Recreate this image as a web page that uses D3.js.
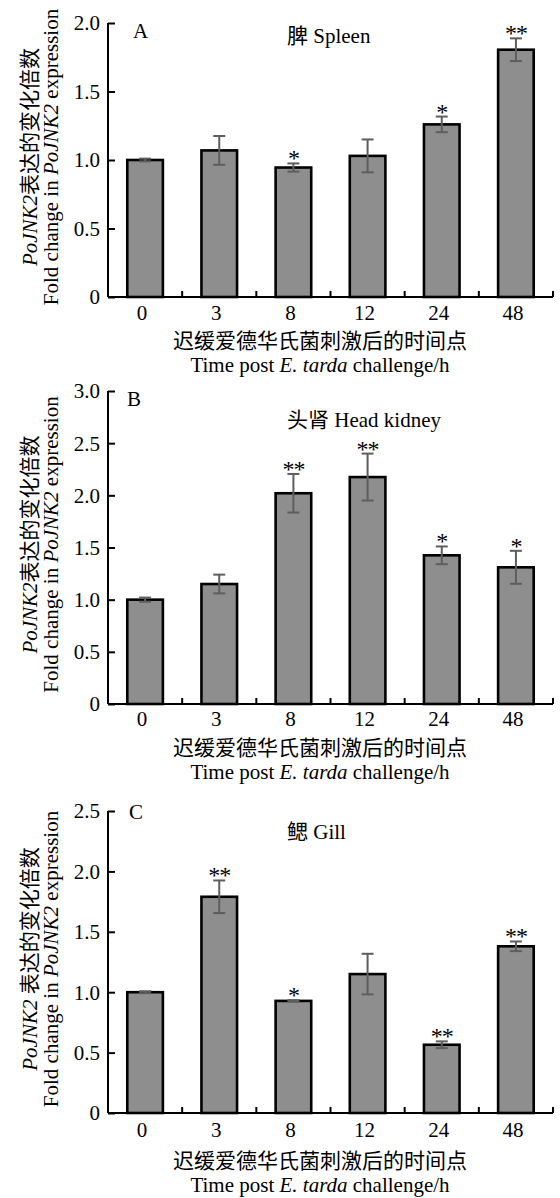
<!DOCTYPE html>
<html><head><meta charset="utf-8">
<script src="https://cdn.jsdelivr.net/npm/d3@7/dist/d3.min.js"></script>
<style>
html,body{margin:0;padding:0;background:#fff;}
svg text{font-family:"Liberation Serif","Times New Roman","Noto Sans CJK SC",serif;fill:#000;}
</style></head>
<body>
<svg id="chart" width="560" height="1198"></svg>
<script>
// ---------- data ----------
const categories = ["0", "3", "8", "12", "24", "48"];

const spleenMean = [1.00, 1.07, 0.945, 1.03, 1.26, 1.805];
const spleenErr  = [0.01, 0.105, 0.03, 0.12, 0.057, 0.083];
const spleenSig  = ["", "", "*", "", "*", "**"];

const kidneyMean = [1.00, 1.15, 2.02, 2.175, 1.425, 1.31];
const kidneyErr  = [0.02, 0.09, 0.185, 0.225, 0.085, 0.158];
const kidneySig  = ["", "", "**", "**", "*", "*"];

const gillMean = [1.00, 1.79, 0.928, 1.15, 0.565, 1.38];
const gillErr  = [0.008, 0.135, 0.006, 0.168, 0.028, 0.04];
const gillSig  = ["", "**", "*", "", "**", "**"];

const ticksA = [0, 0.5, 1.0, 1.5, 2.0];
const ticksB = [0, 0.5, 1.0, 1.5, 2.0, 2.5, 3.0];
const ticksC = [0, 0.5, 1.0, 1.5, 2.0, 2.5];

const panelLetters = ["A", "B", "C"];
const panelTitles = ["脾 Spleen", "头肾 Head kidney", "鳃 Gill"];
const yLabelCN = ["表达的变化倍数", "表达的变化倍数", " 表达的变化倍数"];
const xLabelCN = "迟缓爱德华氏菌刺激后的时间点";

// ---------- layout ----------
const panels = [
  {mean: spleenMean, err: spleenErr, sig: spleenSig, ticks: ticksA, yTop: 23, yBot: 297,
   letterY: 38, titleY: 43, tickLblDy: 23, cnDy: 51, enDy: 75},
  {mean: kidneyMean, err: kidneyErr, sig: kidneySig, ticks: ticksB, yTop: 391, yBot: 704,
   letterY: 406, titleY: 427, tickLblDy: 22, cnDy: 51, enDy: 75},
  {mean: gillMean, err: gillErr, sig: gillSig, ticks: ticksC, yTop: 811, yBot: 1113,
   letterY: 819, titleY: 839, tickLblDy: 24, cnDy: 55, enDy: 79}
];
const letterX = [133, 127, 129];
const xLeft = 108, xRight = 553;
const FS = 21;

const svg = d3.select("#chart");

panels.forEach((p, pi) => {
  const g = svg.append("g");
  const x = d3.scaleBand().domain(categories).range([xLeft, xRight])
    .paddingInner(0.52).paddingOuter(0.26);
  const yMax = p.ticks[p.ticks.length - 1];
  const y = d3.scaleLinear().domain([0, yMax]).range([p.yBot, p.yTop]);

  // bars
  g.selectAll("rect.bar").data(categories).join("rect")
    .attr("class", "bar")
    .attr("x", d => x(d))
    .attr("width", x.bandwidth())
    .attr("y", (d, i) => y(p.mean[i]))
    .attr("height", (d, i) => y(0) - y(p.mean[i]))
    .attr("fill", "#8e8e8e")
    .attr("stroke", "#000")
    .attr("stroke-width", 2.6);

  // error bars
  const capW = 6;
  categories.forEach((c, i) => {
    const cx = x(c) + x.bandwidth() / 2;
    const hi = y(p.mean[i] + p.err[i]), lo = y(p.mean[i] - p.err[i]);
    const eg = g.append("g").attr("stroke", "#5e5e5e").attr("stroke-width", 2);
    eg.append("line").attr("x1", cx).attr("x2", cx).attr("y1", hi).attr("y2", lo);
    eg.append("line").attr("x1", cx - capW).attr("x2", cx + capW).attr("y1", hi).attr("y2", hi);
    eg.append("line").attr("x1", cx - capW).attr("x2", cx + capW).attr("y1", lo).attr("y2", lo);
    if (p.sig[i]) {
      g.append("text").attr("x", cx).attr("y", hi + 3)
        .attr("text-anchor", "middle").attr("font-size", 24)
        .attr("letter-spacing", -1)
        .text(p.sig[i]);
    }
  });

  // y axis
  const yAxis = d3.axisRight(y).tickValues(p.ticks).tickSize(7).tickSizeOuter(0)
    .tickFormat(d => d === 0 ? "0" : d3.format(".1f")(d));
  const ya = g.append("g").attr("transform", `translate(${xLeft},0)`).call(yAxis);
  ya.select(".domain").attr("stroke", "#000").attr("stroke-width", 2)
    .attr("d", `M0,${p.yTop}V${p.yBot}`);
  ya.selectAll(".tick line").attr("stroke", "#000").attr("stroke-width", 2);
  ya.selectAll(".tick text").attr("x", -8).attr("text-anchor", "end")
    .attr("font-size", FS).attr("font-family", "Liberation Serif")
    .attr("dy", "0.33em").attr("fill", "#000");

  // x axis (ticks pointing up at band boundaries)
  g.append("line").attr("x1", xLeft).attr("x2", xRight).attr("y1", p.yBot).attr("y2", p.yBot)
    .attr("stroke", "#000").attr("stroke-width", 2);
  const bounds = categories.map(c => x(c) + x.bandwidth() / 2 + x.step() / 2);
  g.selectAll("line.xt").data(bounds).join("line").attr("class", "xt")
    .attr("x1", d => d).attr("x2", d => d).attr("y1", p.yBot).attr("y2", p.yBot - 6)
    .attr("stroke", "#000").attr("stroke-width", 2);
  g.selectAll("text.xl").data(categories).join("text").attr("class", "xl")
    .attr("x", d => x(d) + x.bandwidth() / 2 - 3)
    .attr("y", p.yBot + p.tickLblDy)
    .attr("text-anchor", "middle").attr("font-size", FS).text(d => d);

  // panel letter & title
  g.append("text").attr("x", letterX[pi]).attr("y", p.letterY).attr("font-size", FS).text(panelLetters[pi]);
  g.append("text").attr("x", 287).attr("y", p.titleY).attr("font-size", FS).text(panelTitles[pi]);

  // x axis labels
  g.append("text").attr("x", 320).attr("y", p.yBot + p.cnDy).attr("text-anchor", "middle")
    .attr("font-size", FS).text(xLabelCN);
  const en = g.append("text").attr("x", 320).attr("y", p.yBot + p.enDy).attr("text-anchor", "middle")
    .attr("font-size", FS);
  en.append("tspan").text("Time post ");
  en.append("tspan").attr("font-style", "italic").text("E. tarda");
  en.append("tspan").text(" challenge/h");

  // y axis labels (rotated)
  const cy = (p.yTop + p.yBot) / 2 - 3;
  const l1 = g.append("text").attr("transform", `translate(37,${cy}) rotate(-90)`)
    .attr("text-anchor", "middle").attr("font-size", FS);
  l1.append("tspan").attr("font-style", "italic").text("PoJNK2");
  l1.append("tspan").text(yLabelCN[pi]);
  const l2 = g.append("text").attr("transform", `translate(58,${cy}) rotate(-90)`)
    .attr("text-anchor", "middle").attr("font-size", FS);
  l2.append("tspan").text("Fold change in ");
  l2.append("tspan").attr("font-style", "italic").text("PoJNK2");
  l2.append("tspan").text(" expression");
});
</script>
</body></html>
